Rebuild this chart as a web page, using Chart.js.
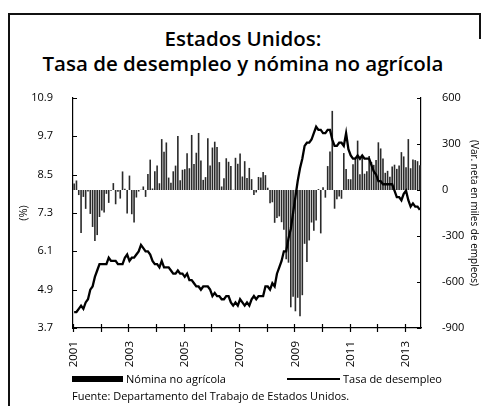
<!DOCTYPE html>
<html>
<head>
<meta charset="utf-8">
<script src="https://cdn.jsdelivr.net/npm/chart.js@4.4.0/dist/chart.umd.min.js"></script>
<style>
  html, body { margin: 0; padding: 0; background: #fff; }
  body { width: 486px; height: 406px; position: relative; overflow: hidden; font-family: 'Open Sans', sans-serif; color: #000; }
  #chart { position: absolute; left: 0; top: 0; }
  .frame { position: absolute; background: #111; }
  .title { position: absolute; left: 0; width: 486px; text-align: center; font-weight: 600; font-size: 20.5px; line-height: 24px; }
  .legend { position: absolute; top: 371px; font-size: 11px; line-height: 16px; white-space: nowrap; }
  .swatch { position: absolute; }
  .source { position: absolute; left: 72px; top: 388px; font-size: 11px; line-height: 16px; white-space: nowrap; }
</style>
</head>
<body>
<div class="frame" style="left:8px;top:13px;width:473px;height:2px"></div>
<div class="frame" style="left:8px;top:13px;width:2px;height:393px"></div>
<div class="frame" style="left:479px;top:13px;width:2px;height:26px"></div>

<div class="title" style="top:26px">Estados Unidos:</div>
<div class="title" style="top:51px">Tasa de desempleo y nómina no agrícola</div>

<canvas id="chart" width="486" height="406"></canvas>

<div class="swatch" style="left:72px;top:376px;width:51px;height:6px;background:#000"></div>
<div class="legend" style="left:126px">Nómina no agrícola</div>
<div class="swatch" style="left:287px;top:378px;width:53px;height:2px;background:#000"></div>
<div class="legend" style="left:343px">Tasa de desempleo</div>
<div class="source">Fuente: Departamento del Trabajo de Estados Unidos.</div>

<script>
// monthly data, Jan 2001 - Jul 2013
const firstYear = 2001;
const yearLabels = ['2001', '2003', '2005', '2007', '2009', '2011', '2013'];

// nomina no agricola, var. mensual (miles de empleos)
const payroll = [
  42, 62, -33, -281, -45, -123, -10, -156, -241, -332, -294, -176,
  -134, -146, -25, -84, -5, 45, -93, -11, -56, 121, 8, -154,
  94, -158, -212, -49, -10, 1, 23, -45, 104, 198, 10, 123,
  160, 44, 332, 250, 310, 81, 47, 122, 159, 352, 64, 132,
  136, 240, 142, 359, 170, 243, 372, 192, 66, 84, 337, 159,
  277, 315, 280, 182, 23, 77, 207, 184, 157, 2, 210, 171,
  238, 88, 188, 78, 144, 71, -33, -16, 85, 82, 118, 97,
  15, -86, -80, -214, -182, -172, -210, -259, -452, -474, -765, -697,
  -791, -703, -823, -686, -351, -470, -329, -212, -265, -199, 6, -283,
  18, -50, 156, 251, 516, -122, -61, -42, -57, 241, 137, 71,
  70, 168, 212, 322, 102, 217, 106, 122, 221, 183, 164, 196,
  311, 271, 205, 112, 125, 87, 153, 165, 138, 160, 247, 219,
  148, 332, 142, 199, 195, 188, 162
];

// tasa de desempleo (%)
const unemployment = [
  4.2, 4.2, 4.3, 4.4, 4.3, 4.5, 4.6, 4.9, 5.0, 5.3, 5.5, 5.7,
  5.7, 5.7, 5.7, 5.9, 5.8, 5.8, 5.8, 5.7, 5.7, 5.7, 5.9, 6.0,
  5.8, 5.9, 5.9, 6.0, 6.1, 6.3, 6.2, 6.1, 6.1, 6.0, 5.8, 5.7,
  5.7, 5.6, 5.8, 5.6, 5.6, 5.6, 5.5, 5.4, 5.4, 5.5, 5.4, 5.4,
  5.3, 5.4, 5.2, 5.2, 5.1, 5.0, 5.0, 4.9, 5.0, 5.0, 5.0, 4.9,
  4.7, 4.8, 4.7, 4.7, 4.6, 4.6, 4.7, 4.7, 4.5, 4.4, 4.5, 4.4,
  4.6, 4.5, 4.4, 4.5, 4.4, 4.6, 4.7, 4.6, 4.7, 4.7, 4.7, 5.0,
  5.0, 4.9, 5.1, 5.0, 5.4, 5.6, 5.8, 6.1, 6.1, 6.5, 6.8, 7.3,
  7.8, 8.3, 8.7, 9.0, 9.4, 9.5, 9.5, 9.6, 9.8, 10.0, 9.9, 9.9,
  9.8, 9.8, 9.9, 9.9, 9.6, 9.4, 9.4, 9.5, 9.5, 9.4, 9.8, 9.3,
  9.1, 9.0, 9.0, 9.1, 9.0, 9.1, 9.0, 9.0, 9.0, 8.8, 8.6, 8.5,
  8.3, 8.3, 8.2, 8.2, 8.2, 8.2, 8.2, 8.0, 7.8, 7.8, 7.7, 7.9,
  8.0, 7.7, 7.5, 7.6, 7.5, 7.5, 7.4
];

const leftTicks = [3.7, 4.9, 6.1, 7.3, 8.5, 9.7, 10.9];
const rightTicks = [-900, -600, -300, 0, 300, 600];

const months = payroll.map((v, i) => {
  const y = firstYear + Math.floor(i / 12);
  const m = (i % 12) + 1;
  return y + '-' + (m < 10 ? '0' + m : m);
});

const FONT = "'Open Sans', sans-serif";

// small inward tick marks, like the printed chart
const tickMarks = {
  id: 'tickMarks',
  afterDraw(chart) {
    const { ctx, chartArea, scales } = chart;
    ctx.save();
    ctx.strokeStyle = '#000';
    ctx.lineWidth = 1.2;
    ctx.beginPath();
    leftTicks.forEach(v => {
      const py = Math.round(scales.y.getPixelForValue(v)) + 0.5;
      ctx.moveTo(chartArea.left, py);
      ctx.lineTo(chartArea.left + 4, py);
    });
    rightTicks.forEach(v => {
      const py = Math.round(scales.y1.getPixelForValue(v)) + 0.5;
      ctx.moveTo(chartArea.right - 4, py);
      ctx.lineTo(chartArea.right, py);
    });
    const half = (scales.x.getPixelForValue(1) - scales.x.getPixelForValue(0)) / 2;
    for (let i = 0; i <= months.length; i += 12) {
      const px = Math.round(scales.x.getPixelForValue(Math.min(i, months.length - 1)) + (i < months.length ? -half : half)) + 0.5;
      ctx.moveTo(px, chartArea.bottom - 4);
      ctx.lineTo(px, chartArea.bottom + 4);
    }
    ctx.stroke();
    ctx.restore();
  }
};

new Chart(document.getElementById('chart'), {
  type: 'bar',
  data: {
    labels: months,
    datasets: [
      {
        type: 'line',
        label: 'Tasa de desempleo',
        data: unemployment,
        yAxisID: 'y',
        borderColor: '#000',
        borderWidth: 2.3,
        pointRadius: 0,
        tension: 0,
        order: 0
      },
      {
        type: 'bar',
        label: 'Nómina no agrícola',
        data: payroll,
        yAxisID: 'y1',
        backgroundColor: '#2a2a2a',
        barPercentage: 0.7,
        categoryPercentage: 1,
        order: 1
      }
    ]
  },
  options: {
    responsive: false,
    animation: false,
    layout: { padding: { left: 17, right: 6, top: 98, bottom: 34 } },
    plugins: {
      legend: { display: false },
      tooltip: { enabled: false }
    },
    scales: {
      x: {
        grid: { display: false },
        border: { display: true, color: '#000', width: 1.2 },
        ticks: {
          autoSkip: false,
          minRotation: 90,
          maxRotation: 90,
          padding: 5,
          color: '#000',
          font: { family: FONT, size: 11.5 },
          callback: function(val, idx) {
            const lab = months[idx];
            const yr = lab.slice(0, 4);
            return lab.slice(5) === '01' && yearLabels.includes(yr) ? yr : '';
          }
        },
        afterFit: s => { s.height = 44; }
      },
      y: {
        position: 'left',
        min: 3.7,
        max: 10.9,
        afterBuildTicks: s => { s.ticks = leftTicks.map(v => ({ value: v })); },
        grid: { display: false },
        border: { display: true, color: '#000', width: 1.2 },
        ticks: {
          padding: 12,
          color: '#000',
          font: { family: FONT, size: 11 },
          callback: v => v.toFixed(1)
        },
        title: {
          display: true,
          text: '(%)',
          color: '#000',
          padding: 0,
          font: { family: FONT, size: 11 }
        },
        afterFit: s => { s.width = 56; }
      },
      y1: {
        position: 'right',
        min: -900,
        max: 600,
        afterBuildTicks: s => { s.ticks = rightTicks.map(v => ({ value: v })); },
        grid: { display: false },
        border: { display: true, color: '#000', width: 1.2 },
        ticks: {
          padding: 13,
          color: '#000',
          font: { family: FONT, size: 11 }
        },
        title: {
          display: true,
          text: '(Var. neta en miles de empleos)',
          color: '#000',
          padding: 0,
          font: { family: FONT, size: 10 }
        },
        afterFit: s => { s.width = 59; }
      }
    }
  },
  plugins: [tickMarks]
});
</script>
</body>
</html>
